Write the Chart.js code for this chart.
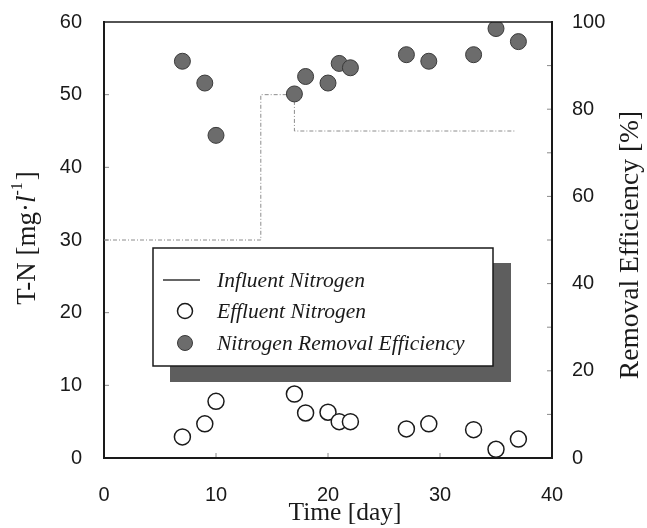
<!DOCTYPE html>
<html>
<head>
<meta charset="utf-8">
<script src="https://cdn.jsdelivr.net/npm/chart.js@4.4.1/dist/chart.umd.min.js"></script>
<style>
    html, body { margin: 0; padding: 0; background: #fff; }
    #wrap { width: 647px; height: 528px; }
</style>
</head>
<body>
<div id="wrap"><canvas id="chart" width="647" height="528"></canvas></div>
<script>
(function () {
    "use strict";

    // influent: step profile (day, mg/l)
    const influentDays = [0, 14, 14, 17, 17, 36.7];
    const influentNitrogen = [30, 30, 50, 50, 45, 45];

    // sampling days and measured values
    const sampleDays = [7, 9, 10, 17, 18, 20, 21, 22, 27, 29, 33, 35, 37];
    const effluentNitrogen = [2.9, 4.7, 7.8, 8.8, 6.2, 6.3, 5.0, 5.0, 4.0, 4.7, 3.9, 1.2, 2.6];
    const removalEfficiency = [91, 86, 74, 83.5, 87.5, 86, 90.5, 89.5, 92.5, 91, 92.5, 98.5, 95.5];

    const seriesNames = ["Influent Nitrogen", "Effluent Nitrogen", "Nitrogen Removal Efficiency"];

    const tickFont = { family: "'Liberation Sans', Arial, sans-serif", size: 20 };
    const serif = "'Liberation Serif', 'Times New Roman', serif";
    const ink = "#1a1a1a";

    function pairs(xs, ys) {
        return xs.map((x, i) => ({ x: x, y: ys[i] }));
    }

    function drawInwardTicks(ctx, scale, values, horizontal, side, len) {
        values.forEach((v) => {
            const p = scale.getPixelForValue(v);
            ctx.beginPath();
            if (horizontal) {
                ctx.moveTo(p, side);
                ctx.lineTo(p, side - len);
            } else {
                ctx.moveTo(side, p);
                ctx.lineTo(side + len, p);
            }
            ctx.stroke();
        });
    }

    const decorPlugin = {
        id: "decor",
        afterDraw(chart) {
            const { ctx, chartArea: a, scales } = chart;
            ctx.save();

            // top frame
            ctx.strokeStyle = ink;
            ctx.lineWidth = 1.5;
            ctx.beginPath();
            ctx.moveTo(a.left, a.top);
            ctx.lineTo(a.right, a.top);
            ctx.stroke();

            // small inward ticks
            ctx.strokeStyle = "#8a8a8a";
            ctx.lineWidth = 1;
            drawInwardTicks(ctx, scales.y, [10, 20, 30, 40, 50], false, a.left + 1, 4);
            drawInwardTicks(ctx, scales.x, [10, 20, 30], true, a.bottom - 1, 4);
            drawInwardTicks(ctx, scales.y1, [10, 20, 30, 40, 50, 60, 70, 80, 90], false, a.right - 1, -4);

            // x title
            ctx.fillStyle = ink;
            ctx.font = "25.5px " + serif;
            ctx.textAlign = "center";
            ctx.textBaseline = "alphabetic";
            ctx.fillText("Time [day]", 345, 520);

            // right title, reads bottom to top
            ctx.save();
            ctx.translate(631, 245);
            ctx.rotate(-Math.PI / 2);
            ctx.font = "27.5px " + serif;
            ctx.textBaseline = "middle";
            ctx.fillText("Removal Efficiency [%]", 0, 0);
            ctx.restore();

            // left title with italic l and superscript
            const parts = [
                { t: "T-N [mg\u00B7", f: "27px " + serif, dy: 0 },
                { t: "l", f: "italic 27px " + serif, dy: 0 },
                { t: "-1", f: "16px " + serif, dy: -10 },
                { t: "]", f: "27px " + serif, dy: 0 }
            ];
            let total = 0;
            parts.forEach((p) => { ctx.font = p.f; p.w = ctx.measureText(p.t).width; total += p.w + (p.t === "]" ? 2 : 0); });
            ctx.save();
            ctx.translate(28, 238);
            ctx.rotate(-Math.PI / 2);
            ctx.textAlign = "left";
            ctx.textBaseline = "middle";
            let cx = -total / 2;
            parts.forEach((p) => {
                ctx.font = p.f;
                if (p.t === "]") cx += 2;
                ctx.fillText(p.t, cx, p.dy);
                cx += p.w;
            });
            ctx.restore();

            // legend with drop shadow
            const box = { l: 153, t: 248, r: 493, b: 366 };
            ctx.fillStyle = "#5e5e5e";
            ctx.fillRect(box.l + 17, box.t + 15, box.r - box.l + 1, box.b - box.t + 1);
            ctx.fillStyle = "#fff";
            ctx.fillRect(box.l, box.t, box.r - box.l, box.b - box.t);
            ctx.strokeStyle = ink;
            ctx.lineWidth = 1.5;
            ctx.strokeRect(box.l, box.t, box.r - box.l, box.b - box.t);

            const rows = [280, 311, 343];
            ctx.strokeStyle = "#333";
            ctx.lineWidth = 1.5;
            ctx.beginPath();
            ctx.moveTo(163, rows[0]);
            ctx.lineTo(200, rows[0]);
            ctx.stroke();

            ctx.beginPath();
            ctx.arc(185, rows[1], 7.5, 0, Math.PI * 2);
            ctx.fillStyle = "#fff";
            ctx.fill();
            ctx.strokeStyle = ink;
            ctx.stroke();

            ctx.beginPath();
            ctx.arc(185, rows[2], 7.5, 0, Math.PI * 2);
            ctx.fillStyle = "#6c6c6c";
            ctx.fill();
            ctx.strokeStyle = "#3a3a3a";
            ctx.lineWidth = 1;
            ctx.stroke();

            ctx.fillStyle = ink;
            ctx.font = "italic 21.5px " + serif;
            ctx.textAlign = "left";
            ctx.textBaseline = "middle";
            chart.data.datasets.forEach((ds, i) => {
                ctx.fillText(ds.label, 217, rows[i] + 1);
            });

            ctx.restore();
        }
    };

    new Chart(document.getElementById("chart"), {
        type: "scatter",
        data: {
            datasets: [{
                label: seriesNames[0],
                type: "line",
                data: pairs(influentDays, influentNitrogen),
                yAxisID: "y",
                borderColor: "#8c8c8c",
                borderWidth: 1,
                borderDash: [4, 2, 1, 2],
                pointRadius: 0,
                fill: false,
                tension: 0,
                order: 3
            }, {
                label: seriesNames[1],
                data: pairs(sampleDays, effluentNitrogen),
                yAxisID: "y",
                pointRadius: 8,
                backgroundColor: "#fff",
                borderColor: ink,
                borderWidth: 1.5,
                order: 2
            }, {
                label: seriesNames[2],
                data: pairs(sampleDays, removalEfficiency),
                yAxisID: "y1",
                pointRadius: 8,
                backgroundColor: "#6c6c6c",
                borderColor: "#3a3a3a",
                borderWidth: 1,
                order: 1
            }]
        },
        plugins: [decorPlugin],
        options: {
            responsive: false,
            animation: false,
            layout: { autoPadding: false, padding: { top: 22, right: 0, left: 0, bottom: 0 } },
            plugins: {
                legend: { display: false },
                tooltip: { enabled: false }
            },
            scales: {
                x: {
                    type: "linear",
                    min: 0,
                    max: 40,
                    grid: { display: false, drawTicks: false },
                    border: { display: true, color: ink, width: 2 },
                    ticks: { stepSize: 10, padding: 25, color: ink, font: tickFont, maxRotation: 0 },
                    afterFit(scale) { scale.height = 70; }
                },
                y: {
                    position: "left",
                    min: 0,
                    max: 60,
                    grid: { display: false, drawTicks: false },
                    border: { display: true, color: ink, width: 2 },
                    ticks: { stepSize: 10, padding: 22, color: ink, font: tickFont },
                    afterFit(scale) { scale.width = 104; scale.paddingTop = 0; scale.paddingBottom = 0; }
                },
                y1: {
                    position: "right",
                    min: 0,
                    max: 100,
                    grid: { display: false, drawTicks: false },
                    border: { display: true, color: ink, width: 2 },
                    ticks: { stepSize: 20, padding: 20, color: ink, font: tickFont },
                    afterFit(scale) { scale.width = 95; scale.paddingTop = 0; scale.paddingBottom = 0; }
                }
            }
        }
    });
}());
</script>
</body>
</html>
